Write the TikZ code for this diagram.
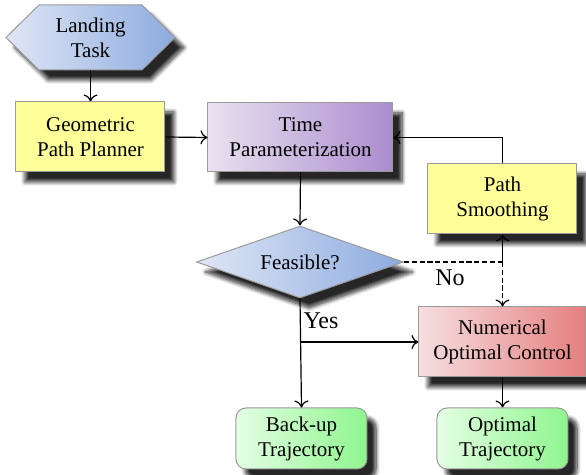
\documentclass[tikz,border=0pt]{standalone}
\usepackage{fontspec}
\setmainfont{Liberation Serif}
\usetikzlibrary{shapes.geometric,shadows.blur,arrows.meta}
\definecolor{blueL}{HTML}{E0E6F5}
\definecolor{blueR}{HTML}{8DABDF}
\definecolor{purpL}{HTML}{E8E2F0}
\definecolor{purpR}{HTML}{AB8CCE}
\definecolor{redL}{HTML}{F6DEDF}
\definecolor{redR}{HTML}{E57F7F}
\definecolor{grnL}{HTML}{E4FFE4}
\definecolor{grnR}{HTML}{8EF58E}
\definecolor{yel}{HTML}{FFFF99}
\definecolor{edge}{HTML}{9A9A9A}
\definecolor{shad}{HTML}{3C3C3C}
\tikzset{
  shd/.style={blur shadow={shadow xshift=4.5pt,shadow yshift=-5pt,shadow blur radius=2pt,shadow opacity=85,shadow blur steps=8}},
  txt/.style={align=center,font=\fontsize{10.5}{12.5}\selectfont,inner sep=0pt},
  boxbase/.style={txt,rectangle,draw=edge,line width=0.5pt,shd},
  yelbox/.style={boxbase,fill=yel},
  purpbox/.style={boxbase,left color=purpL,right color=purpR},
  redbox/.style={boxbase,left color=redL,right color=redR},
  grnbox/.style={boxbase,rounded corners=5pt,left color=grnL,right color=grnR,minimum width=65.5pt,minimum height=30.5pt},
  decision/.style={txt,diamond,aspect=2.875,draw=edge,line width=0.5pt,left color=blueL,right color=blueR,shd},
  hexfill/.style={draw=edge,line width=0.5pt,left color=blueL,right color=blueR,shd},
  arr/.style={draw,line width=0.6pt,-{To[length=3.5pt,width=7pt]}},
  conn/.style={draw,line width=0.6pt},
  dsh/.style={dash pattern=on 2.6pt off 1.3pt},
  lbl/.style={font=\fontsize{12}{14}\selectfont,inner sep=0pt}
}
\begin{document}
\begin{tikzpicture}[x=0.5pt,y=-0.5pt]
\useasboundingbox (0,0) rectangle (586,475);
% hexagon shape
\path[hexfill] (6,37.5) -- (39,5) -- (142,5) -- (175,37.5) -- (142,70) -- (39,70) -- cycle;
\node[txt,minimum width=84.5pt,minimum height=32.5pt] (land) at (90.5,37.5) {Landing\\Task};
\node[yelbox,minimum width=74.5pt,minimum height=35pt] (geo) at (90.5,137) {Geometric\\Path Planner};
\node[purpbox,minimum width=92.5pt,minimum height=34.5pt] (time) at (300.5,137.5) {Time\\Parameterization};
\node[yelbox,minimum width=74.5pt,minimum height=35pt] (smooth) at (502.5,199) {Path\\Smoothing};
\node[decision,minimum width=103.5pt,minimum height=36pt] (feas) at (300,262) {Feasible?};
\node[redbox,minimum width=83.5pt,minimum height=35pt] (num) at (502.5,342) {Numerical\\Optimal Control};
\node[grnbox] (backup) at (301.5,438.5) {Back-up\\Trajectory};
\node[grnbox] (opt) at (502.5,438.5) {Optimal\\Trajectory};
\node[lbl] (no) at (450,278) {No};
\node[lbl] (yes) at (321,321) {Yes};
\coordinate (j) at (smooth.south |- feas.east);
\coordinate (k) at (feas.south |- num.west);
% connectors
\draw[arr] (land.south) -- (geo.north);
\draw[arr] (geo.east) -- (time.west);
\draw[arr] (time.south) -- (feas.north);
\draw[arr] (smooth.north) |- (time.east);
\draw[conn,dsh] (feas.east) -- (j);
\draw[arr] (j) -- (smooth.south);
\draw[arr,dsh] (j) -- (num.north);
\draw[arr] (feas.south) -- (backup.north);
\draw[arr] (k) -- (num.west);
\draw[arr] (num.south) -- (opt.north);
\end{tikzpicture}
\end{document}
